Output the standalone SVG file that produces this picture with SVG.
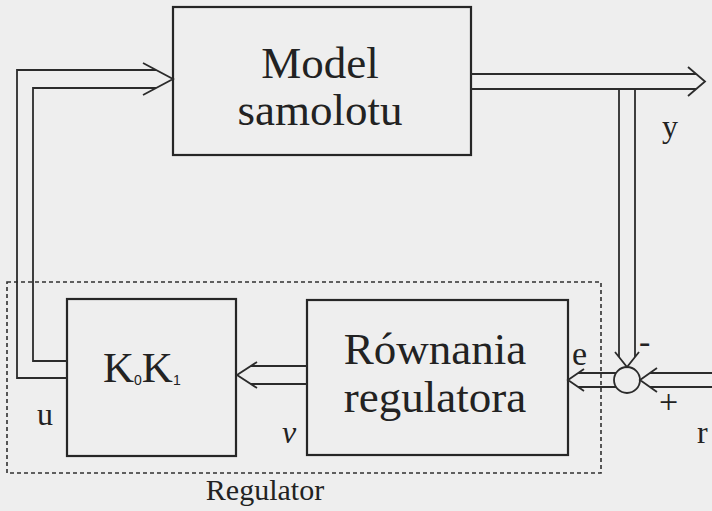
<svg xmlns="http://www.w3.org/2000/svg" width="712" height="511" viewBox="0 0 712 511">
<style>
.box{fill:none;stroke:#262626;stroke-width:2.2}
.ln{fill:none;stroke:#2b2b2b;stroke-width:1.8;stroke-linejoin:miter}
.dash{fill:none;stroke:#303030;stroke-width:1.6;stroke-dasharray:4 3}
text{fill:#222}
.big{text-anchor:middle}
</style>
<rect width="712" height="511" fill="#eeeeee"/>
<g id="regulator-group">
<rect class="dash" x="7" y="282" width="594" height="191"/>
<text x="265" y="500" text-anchor="middle" font-family="Liberation Serif, serif" font-size="30">Regulator</text>
</g>
<g id="model">
<rect class="box" x="173" y="7" width="298" height="148"/>
<text class="big" x="320" y="78" font-family="Liberation Serif, serif" font-size="45">Model</text>
<text class="big" x="320" y="125" font-family="Liberation Serif, serif" font-size="45">samolotu</text>
</g>
<g id="k0k1">
<rect class="box" x="67" y="299" width="169" height="157"/>
<text x="103" y="382" font-family="Liberation Serif, serif" font-size="43">K<tspan font-family="Liberation Sans, sans-serif" font-size="14" dy="3">0</tspan><tspan dy="-3">K</tspan><tspan font-family="Liberation Sans, sans-serif" font-size="14" dy="3">1</tspan></text>
</g>
<g id="rownania">
<rect class="box" x="307" y="300" width="261" height="155"/>
<text class="big" x="435" y="364" font-family="Liberation Serif, serif" font-size="45">Równania</text>
<text class="big" x="435" y="412" font-family="Liberation Serif, serif" font-size="45">regulatora</text>
</g>
<g id="sum">
<circle class="ln" cx="627" cy="380" r="13"/>
<text x="639" y="353" font-family="Liberation Serif, serif" font-size="34">-</text>
<text x="659" y="413" font-family="Liberation Serif, serif" font-size="34">+</text>
</g>
<g id="connectors">
<polyline class="ln" points="67,378 17,378 17,70 156,70"/>
<polyline class="ln" points="67,361 33,361 33,88 156,88"/>
<polyline class="ln" points="143,63 173,79 143,95"/>
<polyline class="ln" points="471,74 696,74"/>
<polyline class="ln" points="471,89 696,89"/>
<polyline class="ln" points="688,67 705,81.5 688,96"/>
<polyline class="ln" points="619,89 619,357"/>
<polyline class="ln" points="635,89 635,357"/>
<polyline class="ln" points="615,352 627,367 639,352"/>
<polyline class="ln" points="712,373 650,373"/>
<polyline class="ln" points="712,387 650,387"/>
<polyline class="ln" points="657,368 640,380 657,392"/>
<polyline class="ln" points="616,373 578,373"/>
<polyline class="ln" points="616,387 578,387"/>
<polyline class="ln" points="584,369 568,380 584,391"/>
<polyline class="ln" points="307,366 251,366"/>
<polyline class="ln" points="307,384 251,384"/>
<polyline class="ln" points="257,362 237,375 257,388"/>
</g>
<g id="labels">
<text x="662" y="137" font-family="Liberation Serif, serif" font-size="32">y</text>
<text x="572" y="365" font-family="Liberation Serif, serif" font-size="34">e</text>
<text x="37" y="425" font-family="Liberation Serif, serif" font-size="32">u</text>
<text x="282" y="443" font-family="Liberation Serif, serif" font-size="32" font-style="italic">ν</text>
<text x="697" y="443" font-family="Liberation Serif, serif" font-size="32">r</text>
</g>
</svg>
